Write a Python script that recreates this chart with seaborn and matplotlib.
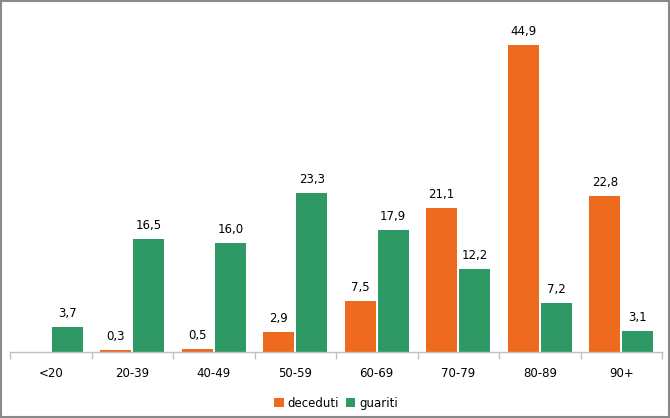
import matplotlib
matplotlib.use("Agg")
import matplotlib.pyplot as plt
import seaborn as sns
import pandas as pd
from matplotlib.patches import Rectangle

categories = ["<20", "20-39", "40-49", "50-59", "60-69", "70-79", "80-89", "90+"]
deceduti = [0.0, 0.3, 0.5, 2.9, 7.5, 21.1, 44.9, 22.8]
guariti = [3.7, 16.5, 16.0, 23.3, 17.9, 12.2, 7.2, 3.1]
series_names = ["deceduti", "guariti"]
colors = ["#EE6A1F", "#2F9966"]

df = pd.DataFrame({
    "cat": categories * 2,
    "val": deceduti + guariti,
    "serie": [series_names[0]] * len(categories) + [series_names[1]] * len(categories),
})

sns.set_style("white")
plt.rcParams["font.family"] = ["DejaVu Sans"]

fig = plt.figure(figsize=(6.7, 4.18), dpi=100)
ax = fig.add_axes([10 / 670, 66 / 418, 652 / 670, 342 / 418])

sns.barplot(data=df, x="cat", y="val", hue="serie", palette=colors,
            width=0.81, gap=0.06, ax=ax, legend=True, saturation=1, linewidth=0)

for cont in ax.containers:
    labels = [("" if v == 0 else f"{v:.1f}".replace(".", ",")) for v in cont.datavalues]
    ax.bar_label(cont, labels=labels, padding=5, fontsize=8.5, color="#000000")

ax.set_ylim(0, 50)
ax.set_xlim(-0.5, len(categories) - 0.5)
ax.set_xlabel("")
ax.set_ylabel("")
ax.set_yticks([])
for s in ["top", "right", "left"]:
    ax.spines[s].set_visible(False)
ax.spines["bottom"].set_color("#BFBFBF")
ax.spines["bottom"].set_linewidth(1)
ax.tick_params(axis="x", which="major", length=0, labelsize=8.5, pad=11, colors="#000000")
ax.set_xticks([i - 0.5 for i in range(len(categories) + 1)], minor=True)
ax.tick_params(axis="x", which="minor", bottom=True, length=5, color="#BFBFBF", width=1,
               direction="out")

leg = ax.legend(loc="lower center", bbox_to_anchor=(0.5, -0.2), ncol=2, frameon=False,
                fontsize=8.5, handlelength=0.8, handleheight=0.8, handletextpad=0.3,
                columnspacing=0.6)
for t in leg.get_texts():
    t.set_color("#000000")

fig.patches.append(Rectangle((0.001, 0.002), 0.997, 0.995, transform=fig.transFigure,
                             fill=False, edgecolor="#8A8A8A", linewidth=1.5))

fig.savefig("out.png", dpi=100)
